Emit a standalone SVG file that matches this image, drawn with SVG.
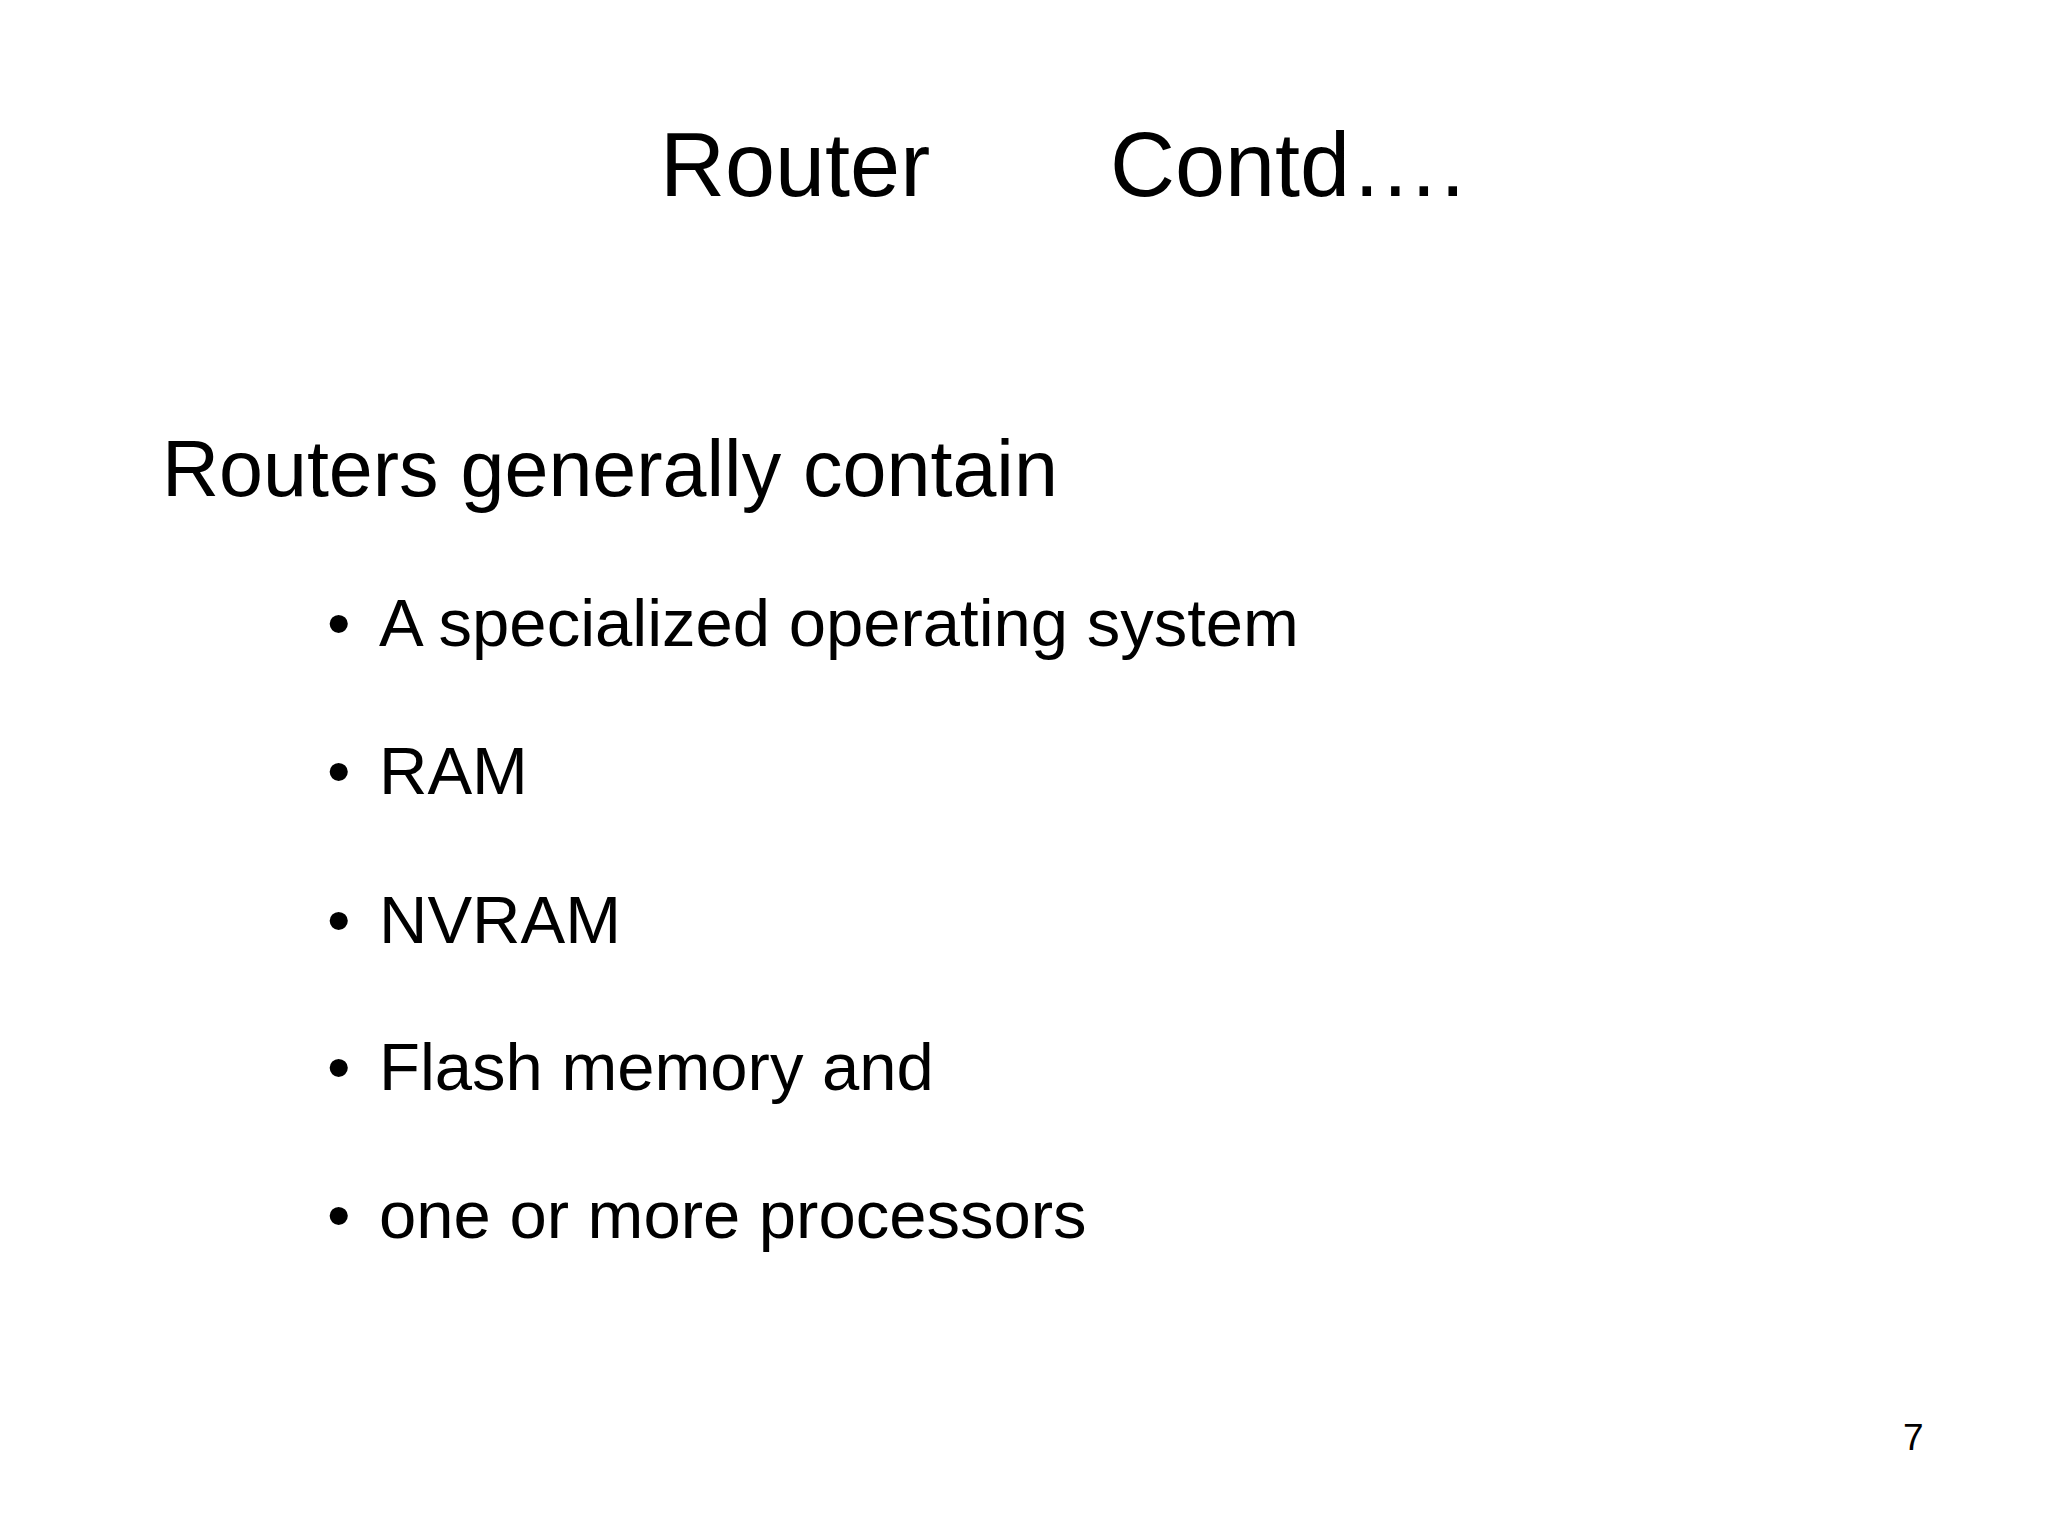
<svg xmlns="http://www.w3.org/2000/svg" width="2048" height="1536" viewBox="0 0 2048 1536">
<style>
text{font-family:"Liberation Sans",Arial,sans-serif;fill:#000}
.b{font-size:67px}
</style>
<rect width="2048" height="1536" fill="#fff"/>
<g id="title"><text x="660" y="196" font-size="90">Router</text><text x="1110" y="196" font-size="90">Contd….</text></g>
<g id="heading"><text x="162" y="496" font-size="79">Routers generally contain</text></g>
<g id="bullets">
<text class="b" x="327" y="646">•</text><text class="b" x="379" y="646">A specialized operating system</text>
<text class="b" x="327" y="794">•</text><text class="b" x="379" y="794">RAM</text>
<text class="b" x="327" y="943">•</text><text class="b" x="379" y="943">NVRAM</text>
<text class="b" x="327" y="1090">•</text><text class="b" x="379" y="1090">Flash memory and</text>
<text class="b" x="327" y="1238">•</text><text class="b" x="379" y="1238">one or more processors</text>
</g>
<g id="page"><text x="1903" y="1450" font-size="37">7</text></g>
</svg>
